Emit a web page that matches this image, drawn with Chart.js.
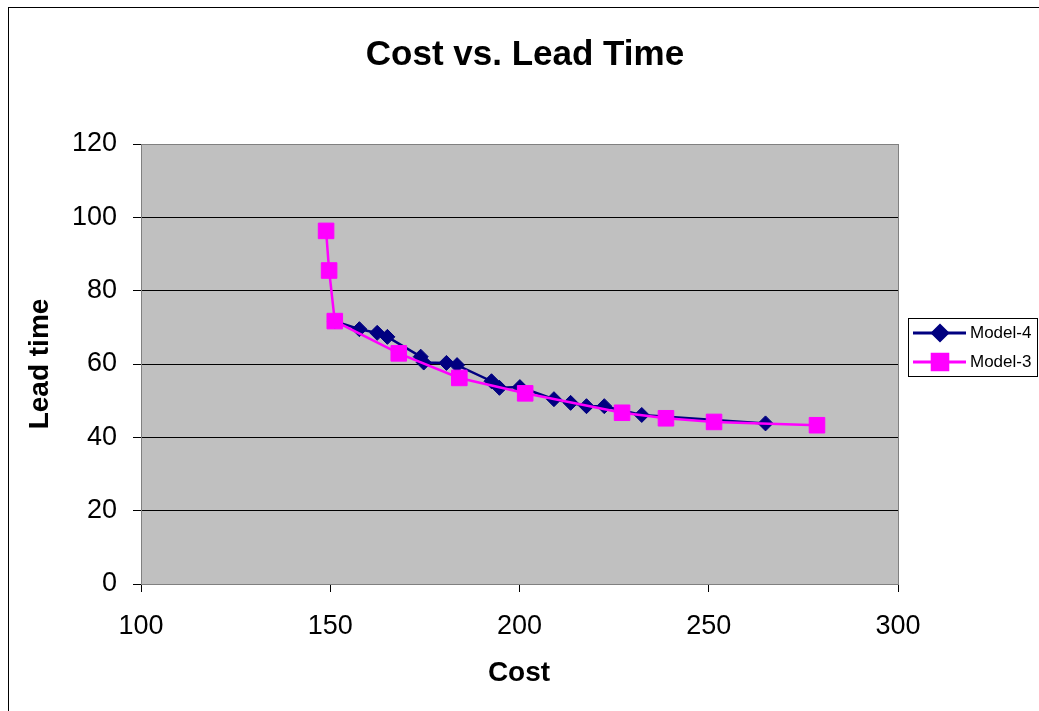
<!DOCTYPE html>
<html>
<head>
<meta charset="utf-8">
<script src="https://cdn.jsdelivr.net/npm/chart.js@4"></script>
<style>
  html, body { margin: 0; padding: 0; background: #fff; }
  #wrap { width: 1039px; height: 711px; position: relative; }
</style>
</head>
<body>
<div id="wrap"><canvas id="chartCanvas" width="1039" height="711"></canvas></div>
<script>
const chartTitle = 'Cost vs. Lead Time';
const xTitle = 'Cost';
const yTitle = 'Lead time';
const seriesNames = ['Model-4', 'Model-3'];

const model4Cost = [151.2, 157.7, 162.4, 165.1, 173.9, 174.7, 180.7, 183.5, 192.6, 194.7, 200.1, 209.1, 213.5, 217.7, 222.4, 232.3, 265.0];
const model4Lead = [71.7, 69.5, 68.5, 67.4, 62.0, 60.4, 60.3, 59.7, 55.3, 53.5, 53.7, 50.4, 49.4, 48.5, 48.5, 46.1, 43.8];

const model3Cost = [148.9, 149.7, 151.2, 168.1, 184.1, 201.5, 227.1, 238.7, 251.4, 278.6];
const model3Lead = [96.3, 85.5, 71.7, 62.9, 56.2, 52.0, 46.7, 45.2, 44.2, 43.3];

const xTicks = [100, 150, 200, 250, 300];
const yTicks = [0, 20, 40, 60, 80, 100, 120];

const FONT = 'Arial, "Liberation Sans", sans-serif';

function toPoints(xs, ys) {
  return xs.map((x, i) => ({ x: x, y: ys[i] }));
}

// background frame, grey plot area, titles and legend
const decor = {
  id: 'decor',
  beforeDraw(chart) {
    const ctx = chart.ctx;
    const a = chart.chartArea;
    ctx.save();
    ctx.fillStyle = '#fff';
    ctx.fillRect(0, 0, chart.width, chart.height);
    ctx.strokeStyle = '#000';
    ctx.lineWidth = 1;
    ctx.strokeRect(8.5, 7.5, 1200, 900);
    ctx.fillStyle = '#C0C0C0';
    ctx.fillRect(a.left, a.top, a.right - a.left, a.bottom - a.top);
    ctx.restore();
  },
  afterDraw(chart) {
    const ctx = chart.ctx;
    const a = chart.chartArea;
    ctx.save();
    ctx.strokeStyle = '#808080';
    ctx.lineWidth = 1;
    ctx.strokeRect(a.left + 0.5, a.top + 0.5, a.right - a.left, a.bottom - a.top);

    ctx.fillStyle = '#000';
    ctx.textAlign = 'center';
    ctx.textBaseline = 'alphabetic';
    ctx.font = 'bold 35px ' + FONT;
    ctx.fillText(chartTitle, 525, 65);
    ctx.textBaseline = 'middle';
    ctx.font = 'bold 28px ' + FONT;
    ctx.fillText(xTitle, 519, 673);
    ctx.translate(40, 364);
    ctx.rotate(-Math.PI / 2);
    ctx.fillText(yTitle, 0, 0);
    ctx.restore();

    // legend
    ctx.save();
    ctx.fillStyle = '#fff';
    ctx.fillRect(908, 318, 129, 58);
    ctx.strokeStyle = '#000';
    ctx.lineWidth = 1;
    ctx.strokeRect(908.5, 318.5, 129, 58);
    const rows = [333, 362];
    chart.data.datasets.forEach((ds, i) => {
      const y = rows[i];
      ctx.strokeStyle = ds.borderColor;
      ctx.lineWidth = 3;
      ctx.beginPath();
      ctx.moveTo(913, y);
      ctx.lineTo(966, y);
      ctx.stroke();
      ctx.fillStyle = ds.pointBackgroundColor;
      ctx.strokeStyle = ds.pointBorderColor;
      Chart.helpers.drawPoint(ctx, {
        pointStyle: ds.pointStyle,
        rotation: 0,
        borderWidth: 1,
        radius: ds.pointRadius
      }, 940, y);
      ctx.fillStyle = '#000';
      ctx.font = '17px ' + FONT;
      ctx.textAlign = 'left';
      ctx.textBaseline = 'middle';
      ctx.fillText(ds.label, 970, y);
    });
    ctx.restore();
  }
};

function initChart() {
  const ctx = document.getElementById('chartCanvas').getContext('2d');
  new Chart(ctx, {
    type: 'scatter',
    data: {
      datasets: [{
        label: seriesNames[0],
        data: toPoints(model4Cost, model4Lead),
        showLine: true,
        borderColor: '#000080',
        borderWidth: 2.5,
        pointStyle: 'rectRot',
        pointRadius: 7.5,
        pointBackgroundColor: '#000080',
        pointBorderColor: '#000080',
        pointBorderWidth: 1,
        order: 1
      }, {
        label: seriesNames[1],
        data: toPoints(model3Cost, model3Lead),
        showLine: true,
        borderColor: '#FF00FF',
        borderWidth: 2.5,
        pointStyle: 'rect',
        pointRadius: 11,
        pointBackgroundColor: '#FF00FF',
        pointBorderColor: '#FF00FF',
        pointBorderWidth: 1,
        order: 0
      }]
    },
    options: {
      responsive: false,
      animation: false,
      layout: { padding: { top: 144, right: 141, left: 0, bottom: 0 } },
      plugins: {
        legend: { display: false },
        tooltip: { enabled: false },
        title: { display: false }
      },
      scales: {
        x: {
          type: 'linear',
          min: xTicks[0],
          max: xTicks[xTicks.length - 1],
          afterBuildTicks: (s) => { s.ticks = xTicks.map(v => ({ value: v })); },
          afterFit: (s) => { s.height = 127; },
          grid: { drawOnChartArea: false, drawTicks: true, tickLength: 8, color: '#000' },
          border: { display: true, color: '#000' },
          ticks: { color: '#000', padding: 18, font: { family: FONT, size: 27 } }
        },
        y: {
          type: 'linear',
          min: yTicks[0],
          max: yTicks[yTicks.length - 1],
          afterBuildTicks: (s) => { s.ticks = yTicks.map(v => ({ value: v })); },
          afterFit: (s) => { s.width = 141; },
          grid: { drawOnChartArea: true, drawTicks: true, tickLength: 8, color: '#000' },
          border: { display: true, color: '#000' },
          ticks: { color: '#000', padding: 16, font: { family: FONT, size: 27 } }
        }
      }
    },
    plugins: [decor]
  });
}

document.addEventListener('DOMContentLoaded', initChart);
</script>
</body>
</html>
